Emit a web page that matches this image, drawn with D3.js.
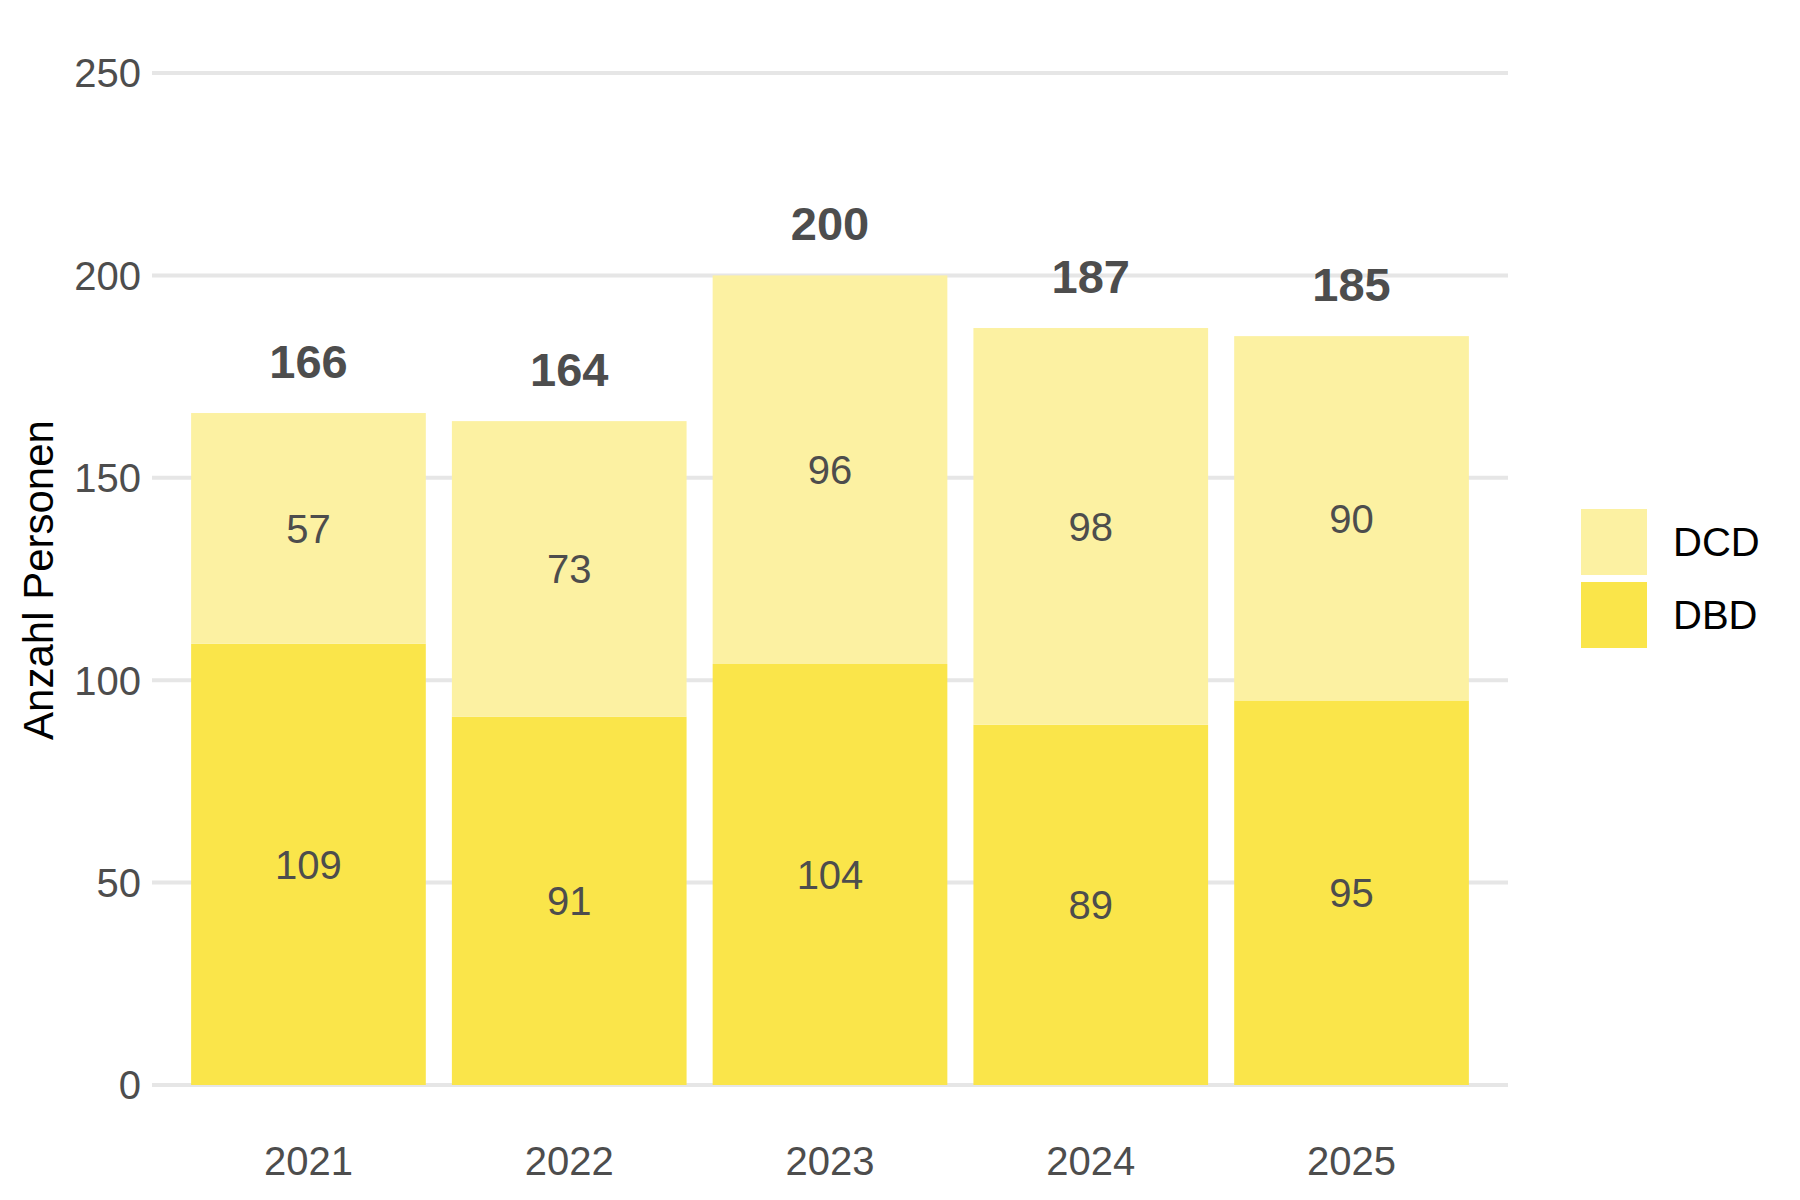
<!DOCTYPE html>
<html>
<head>
<meta charset="utf-8">
<script src="https://cdn.jsdelivr.net/npm/d3@7"></script>
<style>
  body { margin: 0; background: #fff; }
  svg { display: block; font-family: "Liberation Sans", Arial, sans-serif; }
</style>
</head>
<body>
<svg id="chart" width="1800" height="1200"></svg>
<script>
// Data
const years = ["2021", "2022", "2023", "2024", "2025"];
const dbd = [109, 91, 104, 89, 95];
const dcd = [57, 73, 96, 98, 90];
const yTicks = [0, 50, 100, 150, 200, 250];
const seriesNames = ["DCD", "DBD"];

const colors = { DBD: "#fae54a", DCD: "#fcf1a2" };
const textGrey = "#4d4d4d";

const svg = d3.select("#chart");

// Scales
const x = d3
  .scaleBand()
  .domain(years)
  .range([152, 1508])
  .paddingInner(0.1)
  .paddingOuter(0.15);

const y = d3.scaleLinear().domain([0, 250]).range([1085, 73]);

// Build stacked rows
const rows = years.map((yr, i) => ({ year: yr, DBD: dbd[i], DCD: dcd[i] }));
const stack = d3.stack().keys(["DBD", "DCD"]);
const stacked = stack(rows);

// Gridlines
svg
  .append("g")
  .selectAll("line")
  .data(yTicks)
  .enter()
  .append("line")
  .attr("x1", 152)
  .attr("x2", 1508)
  .attr("y1", (d) => y(d))
  .attr("y2", (d) => y(d))
  .attr("stroke", "#e6e6e6")
  .attr("stroke-width", 4);

// Y axis tick labels
svg
  .append("g")
  .selectAll("text")
  .data(yTicks)
  .enter()
  .append("text")
  .attr("x", 141)
  .attr("y", (d) => y(d))
  .attr("dy", "0.36em")
  .attr("text-anchor", "end")
  .attr("font-size", 40)
  .attr("fill", textGrey)
  .text((d) => d);

// X axis labels
svg
  .append("g")
  .selectAll("text")
  .data(years)
  .enter()
  .append("text")
  .attr("x", (d) => x(d) + x.bandwidth() / 2)
  .attr("y", 1175)
  .attr("text-anchor", "middle")
  .attr("font-size", 40)
  .attr("fill", textGrey)
  .text((d) => d);

// Y axis title
svg
  .append("text")
  .attr("transform", "translate(53, 580) rotate(-90)")
  .attr("text-anchor", "middle")
  .attr("font-size", 42)
  .attr("fill", "#000")
  .text("Anzahl Personen");

// Bars
const layers = svg
  .append("g")
  .selectAll("g")
  .data(stacked)
  .enter()
  .append("g")
  .attr("fill", (d) => colors[d.key]);

layers
  .selectAll("rect")
  .data((d) => d)
  .enter()
  .append("rect")
  .attr("x", (d) => x(d.data.year))
  .attr("width", x.bandwidth())
  .attr("y", (d) => y(d[1]))
  .attr("height", (d) => y(d[0]) - y(d[1]));

// Segment labels
layers
  .selectAll("text")
  .data((d) => d.map((p) => ({ p, key: d.key })))
  .enter()
  .append("text")
  .attr("x", (d) => x(d.p.data.year) + x.bandwidth() / 2)
  .attr("y", (d) => y((d.p[0] + d.p[1]) / 2))
  .attr("dy", "0.36em")
  .attr("text-anchor", "middle")
  .attr("font-size", 40)
  .attr("fill", textGrey)
  .text((d) => d.p.data[d.key]);

// Totals on top
svg
  .append("g")
  .selectAll("text")
  .data(rows)
  .enter()
  .append("text")
  .attr("x", (d) => x(d.year) + x.bandwidth() / 2)
  .attr("y", (d) => y(d.DBD + d.DCD) - 35)
  .attr("text-anchor", "middle")
  .attr("font-size", 47)
  .attr("font-weight", "bold")
  .attr("fill", textGrey)
  .text((d) => d.DBD + d.DCD);

// Legend
const legend = svg
  .append("g")
  .selectAll("g")
  .data(seriesNames)
  .enter()
  .append("g")
  .attr("transform", (d, i) => `translate(1581, ${509 + i * 73})`);

legend
  .append("rect")
  .attr("width", 66)
  .attr("height", 66)
  .attr("fill", (d) => colors[d]);

legend
  .append("text")
  .attr("x", 92)
  .attr("y", 33)
  .attr("dy", "0.36em")
  .attr("font-size", 40)
  .attr("fill", "#000")
  .text((d) => d);
</script>
</body>
</html>
